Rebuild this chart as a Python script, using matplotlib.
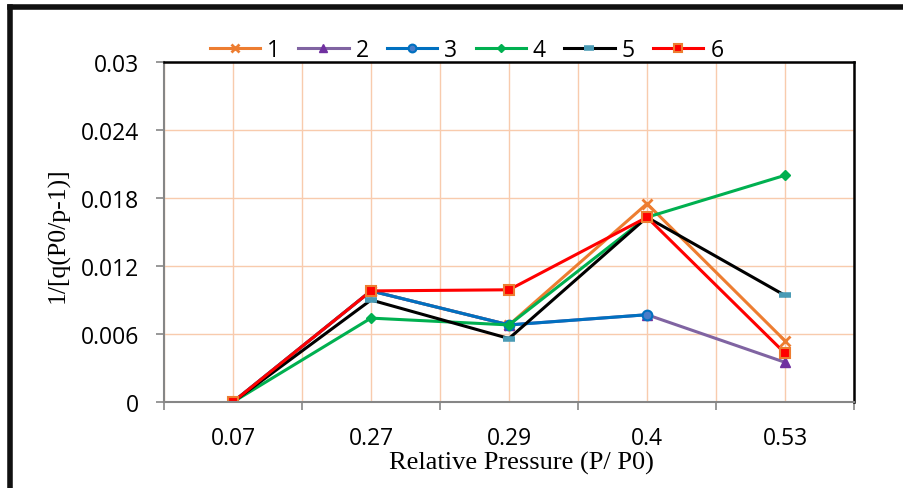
import numpy as np
import matplotlib
matplotlib.use('Agg')
import matplotlib.pyplot as plt
from matplotlib.lines import Line2D

pressures = ['0.07', '0.27', '0.29', '0.4', '0.53']
series_names = ['1', '2', '3', '4', '5', '6']

s1 = [0.0, 0.0098, 0.0068, 0.0175, 0.0054]
s2 = [0.0, 0.0098, 0.0068, 0.0077, 0.0035]
s3 = [0.0, 0.0098, 0.0068, 0.0077, np.nan]
s4 = [0.0, 0.0074, 0.0068, 0.0163, 0.0200]
s5 = [0.0, 0.0090, 0.0056, 0.0163, 0.0094]
s6 = [0.0, 0.0098, 0.0099, 0.0163, 0.0043]

y_ticks = [0, 0.006, 0.012, 0.018, 0.024, 0.03]
y_tick_labels = ['0', '0.006', '0.012', '0.018', '0.024', '0.03']

sans = 'Open Sans'
serif = 'Liberation Serif'

fig = plt.figure(figsize=(9.04, 4.89), dpi=100)
ax = fig.add_axes([0.1814, 0.1759, 0.7633, 0.6953])

x = np.arange(len(pressures))
styles = [
    dict(color='#ED7D31', marker='x', ms=7, mew=2),
    dict(color='#8064A2', marker='^', ms=7, mfc='#7030A0', mec='#7030A0'),
    dict(color='#0070C0', marker='o', ms=7, mfc='#4A7CC8', mec='#0070C0', mew=1.5),
    dict(color='#00B050', marker='D', ms=5),
    dict(color='black', marker='_', ms=9, mew=4, mec='#4A9BB5'),
    dict(color='#FF0000', marker='s', ms=7, mfc='#FF0000', mec='#ED7D31', mew=1.5),
]
for name, vals, st in zip(series_names, [s1, s2, s3, s4, s5, s6], styles):
    ax.plot(x, vals, lw=2.2, label=name, **st)

ax.set_xlim(-0.5, len(pressures) - 0.5)
ax.set_ylim(0, 0.03)

# major ticks at category edges, labels at centers
ax.set_xticks(np.arange(-0.5, len(pressures), 1))
ax.set_xticklabels([])
ax.set_xticks(x, minor=True)
ax.set_xticklabels(pressures, minor=True, fontfamily=sans, fontsize=16.5)
ax.tick_params(axis='x', which='major', length=6, width=1.2, color='#868686')
ax.tick_params(axis='x', which='minor', length=0, pad=17)

ax.set_yticks(y_ticks)
ax.set_yticklabels(y_tick_labels, fontfamily=sans, fontsize=16.5)
ax.tick_params(axis='y', length=6, width=1.2, color='#868686', pad=12)

ax.grid(True, which='both', color='#F8CBAD', lw=1)
ax.set_axisbelow(True)

for side in ['left', 'bottom']:
    ax.spines[side].set_color('#868686')
    ax.spines[side].set_linewidth(1.5)
for side in ['top', 'right']:
    ax.spines[side].set_color('black')
    ax.spines[side].set_linewidth(1.8)

fig.text(0.577, 0.053, 'Relative Pressure (P/ P0)', fontfamily=serif,
         fontsize=19, ha='center', va='center')
fig.text(0.064, 0.52, '1/[q(P0/p-1)]', fontfamily=serif, fontsize=18.5,
         ha='center', va='center', rotation=90)

fig.legend(loc='center', bbox_to_anchor=(0.516, 0.8957), ncol=6,
           frameon=False, prop={'family': sans, 'size': 16.5},
           handlelength=2.2, handletextpad=0.3, columnspacing=0.8,
           markerscale=0.8)

# thick frame on left and top
fig.add_artist(Line2D([0.0115, 0.0115], [0, 0.984], color='#111111', lw=4))
fig.add_artist(Line2D([0.0115, 1], [0.984, 0.984], color='#111111', lw=4))

fig.savefig('out.png', dpi=100)
